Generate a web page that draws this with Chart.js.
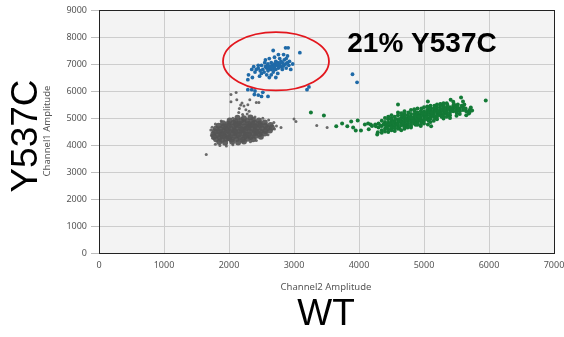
<!DOCTYPE html>
<html>
<head>
<meta charset="utf-8">
<script src="https://cdn.jsdelivr.net/npm/chart.js@4.4.1/dist/chart.umd.min.js"></script>
<style>
  body { margin: 0; background: #ffffff; }
  #box { width: 564px; height: 337px; position: relative; }
</style>
</head>
<body>
<div id="box"><canvas id="dropletChart" width="564" height="337"></canvas></div>
<script>
// Eixos e rótulos
var xTicks = [0, 1000, 2000, 3000, 4000, 5000, 6000, 7000];
var yTicks = [0, 1000, 2000, 3000, 4000, 5000, 6000, 7000, 8000, 9000];
var xTitle = 'Channel2 Amplitude';
var yTitle = 'Channel1 Amplitude';
var bigX = 'WT';
var bigY = 'Y537C';
var note = '21% Y537C';
// elipse vermelha: centro e raios em unidades de dados
var ringCenter = [2723, 7100];
var ringRadius = [815, 1080];

// Gotas negativas (nuvem cinza)
var grayCloud = [
  [1850,4110],[1940,4080],[2050,4120],[2140,4090],[2230,4130],
  [1800,4210],[1890,4190],[1960,4230],[2040,4200],[2120,4220],[2210,4190],[2290,4230],[2370,4210],
  [1770,4310],[1860,4290],[1930,4320],[2010,4300],[2090,4330],[2170,4290],[2250,4320],[2330,4300],[2410,4330],[2490,4310],
  [1760,4410],[1840,4390],[1910,4420],[1990,4400],[2070,4430],[2150,4390],[2230,4420],[2310,4400],[2390,4430],[2470,4410],[2550,4430],
  [1780,4510],[1850,4490],[1920,4520],[2000,4500],[2080,4530],[2160,4490],[2240,4520],[2320,4500],[2400,4530],[2480,4510],[2560,4520],[2630,4540],
  [1800,4610],[1870,4590],[1950,4620],[2030,4600],[2110,4630],[2190,4590],[2270,4620],[2350,4600],[2430,4630],[2510,4610],[2590,4630],[2660,4650],
  [1840,4710],[1920,4690],[2000,4720],[2080,4700],[2160,4730],[2240,4690],[2320,4720],[2400,4700],[2480,4730],[2560,4710],[2640,4740],
  [1910,4810],[1990,4790],[2070,4820],[2150,4800],[2230,4830],[2310,4790],[2390,4820],[2470,4800],[2550,4830],
  [2010,4910],[2100,4890],[2190,4920],[2280,4900],[2370,4930],[2460,4910],
  [2130,5010],[2230,4990],[2330,5020],
  [1900,4350],[2000,4250],[2100,4470],[2200,4560],[2300,4660],[2420,4480],[1980,4560],[2120,4760],[2260,4360],[2360,4760]
];
var grayStray = [
  [1730,4350],[1720,4560],[1750,4250],[1790,4030],[1860,3980],[1960,3960],[2060,4010],[2330,4120],[2420,4170],
  [2600,4380],[2700,4590],[2730,4700],[2690,4830],[2610,4930],[2520,4990],[2400,5040],[2060,4990],[1880,4890],
  [1790,4780],[1740,4660],
  [2150,5200],[2160,5350],[2180,5480],[2200,5560],[2230,5440],[2260,5310],[2290,5490],[2310,5250],[2210,5130],[2280,5150],
  [1650,3650],[2800,4650],[3000,4960],[3030,4870],[2030,5870],[2110,5940],[2320,5680],[2420,5570],[2460,5570],
  [2030,5600],[2120,5680],[3350,4720],[3510,4650]
];

// Gotas WT (verde)
var greenDrops = [
  [4300,4650],[4300,4800],[4350,4700],[4350,4900],[4350,4550],[4400,4750],[4400,4600],[4400,4850],
  [4450,4700],[4450,4820],[4450,4950],[4450,4580],[4500,4750],[4500,4880],[4500,4650],[4500,4980],
  [4550,4800],[4550,4700],[4550,4900],[4550,5050],[4550,4620],[4600,4850],[4600,4750],[4600,4950],[4600,4680],[4600,5100],
  [4650,4800],[4650,4900],[4650,5000],[4650,4720],[4650,4880],[4700,4850],[4700,4950],[4700,5050],[4700,4750],[4700,4650],[4700,5150],
  [4750,4900],[4750,5000],[4750,4800],[4750,5100],[4750,4720],[4800,4950],[4800,4850],[4800,5050],[4800,4780],[4800,5150],[4800,4900],
  [4850,4950],[4850,5050],[4850,4880],[4850,5150],[4850,4800],[4900,5000],[4900,5100],[4900,4900],[4900,4820],[4900,5200],[4900,4950],
  [4950,5050],[4950,4950],[4950,5150],[4950,4880],[4950,5250],[5000,5050],[5000,5150],[5000,4950],[5000,5250],[5000,4900],[5000,5100],
  [5050,5100],[5050,5200],[5050,5000],[5050,5300],[5050,4950],[5100,5150],[5100,5050],[5100,5250],[5100,4980],[5100,5350],[5100,5100],
  [5150,5150],[5150,5250],[5150,5050],[5150,5350],[5150,5200],[5200,5200],[5200,5100],[5200,5300],[5200,5400],[5200,5050],
  [5250,5250],[5250,5150],[5250,5350],[5250,5450],[5250,5100],[5250,5200],[5300,5250],[5300,5150],[5300,5350],[5300,5050],[5300,5450],
  [5350,5300],[5350,5200],[5350,5400],[5350,5550],[5350,5150],[5400,5300],[5400,5200],[5400,5400],[5400,5100],
  [5450,5350],[5450,5250],[5450,5450],[5450,5600],[5500,5300],[5500,5200],[5500,5400],[5550,5350],[5550,5250],[5550,5150],
  [5600,5300],[5600,5400],[5650,5250],[5650,5100],[5700,5300],[5700,5200],
  [4420,4680],[4480,4800],[4530,4870],[4580,4780],[4630,4950],[4680,4820],[4730,4950],[4780,5020],[4830,4900],
  [4880,5080],[4930,5000],[4980,5180],[5030,5050],[5080,5220],[5130,5120],[5180,5300],[5230,5180],[5280,5300],
  [5330,5250],[5380,5350],[5430,5300],[5480,5450],[5530,5300],[5580,5450],[4620,4620],[4720,4700],[4870,4750],
  [4970,4850],[5070,4900],[5170,5000],[5270,5050],[5370,5100],[4760,5200],[4860,5250],[4960,5350],[5060,5400],
  [5160,5450],[5260,5500],[5360,5480],[5460,5520],[4560,4960],[4660,5080],[5520,5500],[5620,5500],[5640,5350],
  [4380,4780],[4330,4720],[4250,4760],[4200,4700],[4180,4760],
  [4400,5000],[4500,5100],[4600,5200],[4700,5250],[4800,5300],[4900,5350],[5000,5400],[5100,5450],[5200,5500],
  [5300,5550],[4450,5050],[4650,5180],[4850,5320],[5050,5430],[5250,5520],
  [4400,4500],[4500,4550],[4600,4600],[4700,4600],[4800,4700],[4900,4750],[5000,4800],[5100,4850],[5200,4950],
  [5300,4980],[5400,5000],[5500,5080],[4550,4520],[4750,4650],[4950,4700],[5150,4900],[5350,5050],[4350,4450],[4450,4480],
  [4420,4760],[4520,4820],[4620,4880],[4720,4900],[4820,5000],[4920,5060],[5020,5150],[5120,5200],[5220,5250],
  [5320,5300],[5420,5350],[5520,5380],[5620,5350],
  [4650,4550],[4800,4650],[5060,4760],[5110,4690],[4950,4750],
  [5060,5610],[5410,5680],[5570,5760],[5600,5610],[5720,5390],[5740,5280],[5690,5170],[5950,5650],
  [3260,5200],[3460,5090],[3650,4690],[3740,4800],[3820,4690],[3880,4870],[3910,4650],[3950,4540],[3980,4910],
  [4030,4540],[4090,4760],[4140,4800],[4150,4580],[4260,4690],[4290,4470],[4280,4390],[4600,5500]
];

// Gotas mutantes (azul)
var blueDrops = [
  [2450,6850],[2480,6750],[2500,6950],[2520,6800],[2540,6700],[2560,6900],[2580,6850],[2600,7000],[2600,6750],
  [2620,6900],[2640,6800],[2650,7050],[2660,6950],[2680,6850],[2680,6700],[2700,7000],[2700,6900],[2720,7100],
  [2720,6800],[2740,6950],[2750,7050],[2760,6850],[2780,7000],[2780,7200],[2800,6900],[2800,7100],[2820,7050],
  [2840,6950],[2850,7150],[2870,7000],[2880,6850],[2900,7050],[2920,6950],[2930,7100],[2550,7050],[2500,6650],
  [2450,6950],[2420,6800],[2400,6700],[2380,6900],[2580,6600],[2650,6600],[2750,6650],[2820,6800],[2880,7200],
  [2900,7300],[2840,7350],[2700,7250],[2620,7200],[2560,7150],[2760,7350],[2680,7500],[2870,7600],[2910,7600],
  [3090,7420],[2950,6800],[2980,7000],[2350,6800],[2300,6600],[2290,6420],[2360,6500],[2470,6550],[2620,6500],
  [2720,6500],[3200,6050],[3230,6150],[3900,6620],[3970,6320],[2350,6050],[2400,6000],[2450,5850],[2500,5800],
  [2600,5800],[2520,5950],[2290,6050],[2390,5870],
  [2610,6880],[2690,6780],[2710,6950],[2770,6900],[2660,6870],[2740,7010],[2590,6950],[2830,6920]
];

function toPoints(list) {
    return list.map(function(p) { return { x: p[0], y: p[1] }; });
}

// Fundo, moldura, elipse e textos
var decoracao = {
    id: 'decoracao',
    beforeDatasetsDraw: function(chart) {
        var a = chart.chartArea, ctx = chart.ctx;
        ctx.save();
        ctx.globalCompositeOperation = 'destination-over';
        ctx.fillStyle = '#f3f3f3';
        ctx.fillRect(a.left, a.top, a.right - a.left, a.bottom - a.top);
        ctx.restore();
    },
    afterDraw: function(chart) {
        var a = chart.chartArea, ctx = chart.ctx;
        var xs = chart.scales.x, ys = chart.scales.y;
        ctx.save();
        ctx.strokeStyle = '#222';
        ctx.lineWidth = 1;
        ctx.strokeRect(a.left + 0.5, a.top + 0.5, a.right - a.left, a.bottom - a.top);

        // elipse vermelha
        var cx = xs.getPixelForValue(ringCenter[0]);
        var cy = ys.getPixelForValue(ringCenter[1]);
        var rx = xs.getPixelForValue(ringCenter[0] + ringRadius[0]) - cx;
        var ry = cy - ys.getPixelForValue(ringCenter[1] + ringRadius[1]);
        ctx.beginPath();
        ctx.ellipse(cx, cy, rx, ry, 0, 0, Math.PI * 2);
        ctx.strokeStyle = '#e3161d';
        ctx.lineWidth = 1.8;
        ctx.stroke();

        // textos
        ctx.fillStyle = '#000';
        ctx.textAlign = 'center';
        ctx.textBaseline = 'alphabetic';
        ctx.font = 'bold 28px "Liberation Sans", Arial, sans-serif';
        ctx.fillText(note, 422, 52);

        ctx.fillStyle = '#555';
        ctx.font = '9.5px "Noto Sans", sans-serif';
        ctx.textBaseline = 'middle';
        ctx.fillText(xTitle, 326, 287);

        ctx.save();
        ctx.translate(47, 131);
        ctx.rotate(-Math.PI / 2);
        ctx.fillText(yTitle, 0, 0);
        ctx.restore();

        ctx.fillStyle = '#000';
        ctx.textBaseline = 'alphabetic';
        ctx.font = '37px "Liberation Sans", Arial, sans-serif';
        ctx.fillText(bigX, 326, 325);

        ctx.save();
        ctx.translate(37, 136);
        ctx.rotate(-Math.PI / 2);
        ctx.fillText(bigY, 0, 0);
        ctx.restore();
        ctx.restore();
    }
};

var ctx = document.getElementById('dropletChart').getContext('2d');

var dropletChart = new Chart(ctx, {
    type: 'scatter',
    data: {
        datasets: [
            { data: toPoints(grayCloud), backgroundColor: 'rgba(85,85,85,0.92)', borderWidth: 0, pointRadius: 3 },
            { data: toPoints(grayStray), backgroundColor: '#6a6a6a', borderWidth: 0, pointRadius: 1.5 },
            { data: toPoints(greenDrops), backgroundColor: '#137a36', borderWidth: 0, pointRadius: 2 },
            { data: toPoints(blueDrops), backgroundColor: '#1f6aa8', borderWidth: 0, pointRadius: 1.9 }
        ]
    },
    options: {
        responsive: false,
        animation: false,
        events: [],
        layout: { padding: { top: 10, right: 10, left: 0, bottom: 0 } },
        plugins: {
            legend: { display: false },
            tooltip: { enabled: false }
        },
        scales: {
            x: {
                type: 'linear',
                min: xTicks[0],
                max: xTicks[xTicks.length - 1],
                afterBuildTicks: function(scale) {
                    scale.ticks = xTicks.map(function(v) { return { value: v }; });
                },
                afterFit: function(scale) {
                    scale.height = 84;
                    scale.paddingLeft = 0;
                    scale.paddingRight = 0;
                },
                border: { display: false },
                grid: { color: '#cdcdcd', drawTicks: false },
                ticks: {
                    color: '#555', font: { family: 'Noto Sans', size: 9 }, padding: 7, maxRotation: 0,
                    callback: function(v) { return String(v); }
                }
            },
            y: {
                type: 'linear',
                min: yTicks[0],
                max: yTicks[yTicks.length - 1],
                afterBuildTicks: function(scale) {
                    scale.ticks = yTicks.map(function(v) { return { value: v }; });
                },
                afterFit: function(scale) {
                    scale.width = 99;
                    scale.paddingTop = 0;
                    scale.paddingBottom = 0;
                },
                border: { display: false },
                grid: { color: '#cdcdcd', tickColor: '#bdbdbd', tickLength: 8 },
                ticks: {
                    color: '#555', font: { family: 'Noto Sans', size: 9 }, padding: 4,
                    callback: function(v) { return String(v); }
                }
            }
        }
    },
    plugins: [decoracao]
});
</script>
</body>
</html>
